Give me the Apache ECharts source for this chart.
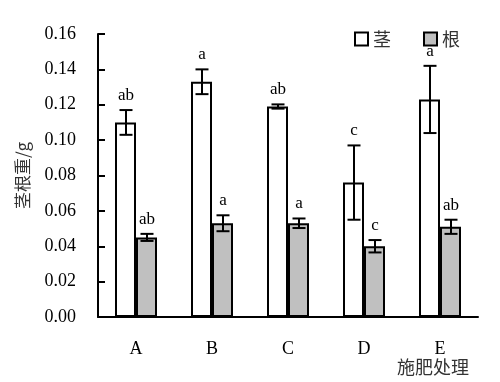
<!DOCTYPE html>
<html><head><meta charset="utf-8">
<script src="https://cdn.jsdelivr.net/npm/echarts@6/dist/echarts.min.js"></script>
<style>html,body{margin:0;padding:0;background:#fff}#c{width:500px;height:382px}</style>
</head><body><div id="c"></div>
<script>
const categories = ['A', 'B', 'C', 'D', 'E'];
const stemValues = [0.110, 0.133, 0.119, 0.076, 0.123];
const stemErrors = [0.007, 0.007, 0.0012, 0.021, 0.019];
const stemLetters = ['ab', 'a', 'ab', 'c', 'a'];
const rootValues = [0.045, 0.053, 0.053, 0.040, 0.051];
const rootErrors = [0.002, 0.0045, 0.0027, 0.0035, 0.004];
const rootLetters = ['ab', 'a', 'a', 'c', 'ab'];
const yTicks = ['0.00','0.02','0.04','0.06','0.08','0.10','0.12','0.14','0.16'];

const serif = '"Liberation Serif", "Times New Roman", serif';
const cjk = '"Noto Sans CJK SC", sans-serif';
const cjkColor = '#333';
const BW = 21;

function errData(vals, errs) {
  return vals.map((v, i) => [i, v, errs[i]]);
}
function errRender(offset, letters) {
  return function (params, api) {
    const i = api.value(0), v = api.value(1), e = api.value(2);
    const letter = letters[params.dataIndex];
    const top = api.coord([i, v + e]);
    const bot = api.coord([i, v - e]);
    const x = Math.round(top[0] + offset);
    const cw = 6.5;
    return {
      type: 'group',
      children: [
        { type: 'line', shape: { x1: x, y1: top[1], x2: x, y2: bot[1] }, style: { stroke: '#000', lineWidth: 2 } },
        { type: 'line', shape: { x1: x - cw, y1: top[1], x2: x + cw, y2: top[1] }, style: { stroke: '#000', lineWidth: 2 } },
        { type: 'line', shape: { x1: x - cw, y1: bot[1], x2: x + cw, y2: bot[1] }, style: { stroke: '#000', lineWidth: 2 } },
        { type: 'text', style: { text: letter, x: x, y: top[1] - 6, align: 'center', verticalAlign: 'bottom', fontSize: 17, fontFamily: serif, fill: '#000' } }
      ]
    };
  };
}

const chart = echarts.init(document.getElementById('c'));
chart.setOption({
  animation: false,
  grid: { left: 98, right: 22, top: 34, bottom: 65, containLabel: false, outerBoundsMode: 'none' },
  legend: {
    left: 354, top: 30, padding: 0,
    itemWidth: 13, itemHeight: 13, itemGap: 32,
    textStyle: { fontFamily: cjk, fontSize: 18, color: cjkColor },
    data: [
      { name: '茎', icon: 'rect', itemStyle: { color: '#fff', borderColor: '#000', borderWidth: 2 } },
      { name: '根', icon: 'rect', itemStyle: { color: '#c0c0c0', borderColor: '#000', borderWidth: 2 } }
    ]
  },
  xAxis: {
    type: 'category', data: categories,
    name: '施肥处理', nameLocation: 'end', nameGap: -81, nameMoveOverlap: false,
    nameTextStyle: { fontFamily: cjk, fontSize: 18, color: cjkColor, align: 'left', verticalAlign: 'top', padding: [41, 0, 0, 0] },
    axisLine: { lineStyle: { color: '#000', width: 2 } },
    axisTick: { inside: true, length: 6, lineStyle: { color: '#000', width: 2 } },
    axisLabel: { fontFamily: serif, fontSize: 18, color: '#000', margin: 23 }
  },
  yAxis: {
    type: 'value', min: 0, max: 0.16, interval: 0.02,
    name: '茎根重/g', nameLocation: 'middle', nameGap: 67, nameRotate: 90,
    nameTextStyle: { fontFamily: cjk, fontSize: 17, color: cjkColor },
    axisLine: { show: true, lineStyle: { color: '#000', width: 2 } },
    axisTick: { show: true, inside: true, length: 7, lineStyle: { color: '#000', width: 2 } },
    splitLine: { show: false },
    axisLabel: { fontFamily: serif, fontSize: 18, color: '#000', margin: 22,
      formatter: (v) => yTicks[Math.round(v / 0.02)] }
  },
  series: [
    { name: '茎', type: 'bar', data: stemValues, barWidth: BW, barGap: '0%',
      itemStyle: { color: '#fff', borderColor: '#000', borderWidth: 2 } },
    { name: '根', type: 'bar', data: rootValues, barWidth: BW, barGap: '0%',
      itemStyle: { color: '#c0c0c0', borderColor: '#000', borderWidth: 2 } },
    { type: 'custom', data: errData(stemValues, stemErrors), renderItem: errRender(-BW / 2, stemLetters), z: 5 },
    { type: 'custom', data: errData(rootValues, rootErrors), renderItem: errRender(BW / 2, rootLetters), z: 5 }
  ]
});
</script></body></html>
